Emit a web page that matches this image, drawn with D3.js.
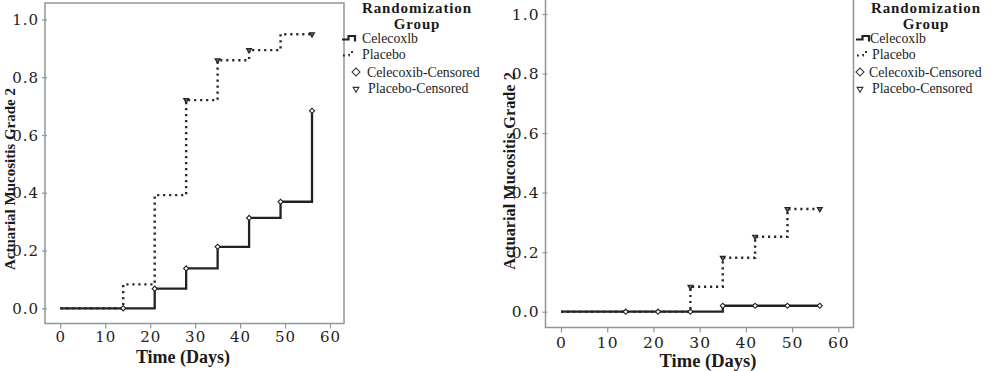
<!DOCTYPE html>
<html><head><meta charset="utf-8">
<script src="https://cdn.jsdelivr.net/npm/d3@7/dist/d3.min.js"></script>
<style>
html,body{margin:0;padding:0;background:#fff;}
svg{display:block;}
</style></head>
<body>
<svg id="c" width="1000" height="371"></svg>
<script>
// ---------- DATA ----------
const xTicks = [0, 10, 20, 30, 40, 50, 60];
const yTicks = [0.0, 0.2, 0.4, 0.6, 0.8, 1.0];
const xTitle = "Time (Days)";
const yTitle = "Actuarial Mucositis Grade 2";
const legendTitle = ["Randomization", "Group"];
const legendLabels = ["Celecoxlb", "Placebo", "Celecoxib-Censored", "Placebo-Censored"];

// Left panel
const leftCelecoxibTimes  = [0, 21, 28, 35, 42, 49, 56];
const leftCelecoxibValues = [0, 0.068, 0.138, 0.213, 0.313, 0.369, 0.684];
const leftCelecoxibCensored = [14, 21, 28, 35, 42, 49, 56];
const leftPlaceboTimes  = [0, 14, 21, 28, 35, 42, 49, 56];
const leftPlaceboValues = [0, 0.083, 0.392, 0.721, 0.859, 0.894, 0.949, 0.949];
const leftPlaceboCensored = [28, 35, 42, 56];

// Right panel
const rightCelecoxibTimes  = [0, 35, 56];
const rightCelecoxibValues = [0, 0.020, 0.020];
const rightCelecoxibCensored = [14, 21, 28, 35, 42, 49, 56];
const rightPlaceboTimes  = [0, 28, 35, 42, 49, 56];
const rightPlaceboValues = [0, 0.084, 0.181, 0.252, 0.345, 0.345];
const rightPlaceboCensored = [28, 35, 42, 49, 56];

// ---------- DRAW ----------
const svg = d3.select("#c");
const INK = "#222";
const FRAME = "#8d9898";
const SERIF = "'Liberation Serif', 'DejaVu Serif', serif";
const TICKSERIF = "'DejaVu Serif', 'Liberation Serif', serif";

function stepValue(times, values, t) {
  let v = values[0];
  for (let i = 0; i < times.length; i++) if (times[i] <= t) v = values[i];
  return v;
}

function panel(o) {
  const g = svg.append("g");
  const x = d3.scaleLinear().domain([0, 60]).range(o.xRange);
  const y = d3.scaleLinear().domain([0, 1]).range(o.yRange);

  // frame
  g.append("rect").attr("x", o.frame[0]).attr("y", o.frame[1])
    .attr("width", o.frame[2] - o.frame[0]).attr("height", o.frame[3] - o.frame[1])
    .attr("fill", "none").attr("stroke", FRAME).attr("stroke-width", 1.5);

  // x axis
  const xa = g.append("g").attr("transform", `translate(0,${o.frame[3]})`)
    .call(d3.axisBottom(x).tickValues(xTicks).tickSize(5).tickPadding(3).tickFormat(d3.format("d")));
  xa.select(".domain").remove();
  xa.selectAll("line").attr("stroke", FRAME).attr("stroke-width", 1.2);
  xa.selectAll("text").attr("font-family", TICKSERIF).attr("font-size", o.tickFont)
    .attr("letter-spacing", o.tickLs).attr("fill", INK).attr("dy", null).attr("y", o.xLabelY - o.frame[3])
    .attr("dominant-baseline", "central");

  // y axis
  const ya = g.append("g").attr("transform", `translate(${o.frame[0] + 2},0)`)
    .call(d3.axisLeft(y).tickValues(yTicks).tickSize(5).tickPadding(3).tickFormat(d3.format(".1f")));
  ya.select(".domain").remove();
  ya.selectAll("line").attr("stroke", FRAME).attr("stroke-width", 1.2);
  ya.selectAll("text").attr("font-family", TICKSERIF).attr("font-size", o.tickFont)
    .attr("letter-spacing", o.tickLs).attr("fill", INK).attr("dy", null).attr("dominant-baseline", "central");

  // titles
  g.append("text").attr("x", o.xTitlePos[0]).attr("y", o.xTitlePos[1])
    .attr("text-anchor", "middle").attr("dominant-baseline", "central")
    .attr("font-family", SERIF).attr("font-weight", "bold").attr("font-size", o.xTitleFont)
    .attr("fill", "#1a1a1a").text(xTitle);
  g.append("text").attr("transform", `translate(${o.yTitlePos[0]},${o.yTitlePos[1]}) rotate(-90)`)
    .attr("text-anchor", "middle").attr("dominant-baseline", "central")
    .attr("font-family", SERIF).attr("font-weight", "bold").attr("font-size", o.yTitleFont)
    .attr("fill", "#1a1a1a").text(yTitle);

  const line = d3.line().x(d => x(d[0])).y(d => y(d[1])).curve(d3.curveStepAfter);

  // Celecoxib solid
  g.append("path").datum(o.cT.map((t, i) => [t, o.cV[i]]))
    .attr("d", line).attr("fill", "none").attr("stroke", INK).attr("stroke-width", 2.3);
  // Placebo dotted
  g.append("path").datum(o.pT.map((t, i) => [t, o.pV[i]]))
    .attr("d", line).attr("fill", "none").attr("stroke", "#2a2a2a").attr("stroke-width", 2.4)
    .attr("stroke-dasharray", "2.2,3.8");

  // censored diamonds (rotated squares)
  g.selectAll(".dia").data(o.cC).enter().append("path")
    .attr("transform", t => `translate(${x(t)},${y(stepValue(o.cT, o.cV, t))}) rotate(45)`)
    .attr("d", d3.symbol(d3.symbolSquare, 13)())
    .attr("fill", "#fff").attr("stroke", INK).attr("stroke-width", 1.1);
  // censored triangles (down)
  g.selectAll(".tri").data(o.pC).enter().append("path")
    .attr("transform", t => `translate(${x(t)},${y(stepValue(o.pT, o.pV, t))}) rotate(180)`)
    .attr("d", d3.symbol(d3.symbolTriangle, 11)())
    .attr("fill", "#666").attr("stroke", INK).attr("stroke-width", 1.1);

  // legend
  const L = o.legend;
  const lg = g.append("g");
  legendTitle.forEach((s, i) => {
    lg.append("text").attr("x", L.titleX).attr("y", 8 + i * 16).attr("text-anchor", "middle")
      .attr("dominant-baseline", "central").attr("font-family", SERIF).attr("font-weight", "bold")
      .attr("font-size", 15).attr("letter-spacing", 0.9).attr("fill", "#1a1a1a").text(s);
  });
  const ys = [38, 54, 72, 88];
  // icons
  lg.append("path").attr("d", `M${L.iconX},${ys[0] + 1.5}h6.5v-3.5h6.5v5.5`)
    .attr("fill", "none").attr("stroke", INK).attr("stroke-width", 2.2);
  lg.append("path").attr("d", `M${L.iconX + 1},${ys[1] + 1.5}h6v-3.5h5`)
    .attr("fill", "none").attr("stroke", INK).attr("stroke-width", 1.8).attr("stroke-dasharray", "1.8,4");
  lg.append("path").attr("transform", `translate(${L.symX},${ys[2]}) rotate(45)`)
    .attr("d", d3.symbol(d3.symbolSquare, 32)())
    .attr("fill", "#fff").attr("stroke", "#333").attr("stroke-width", 1.1);
  lg.append("path").attr("transform", `translate(${L.symX},${ys[3] + 1}) rotate(180)`)
    .attr("d", d3.symbol(d3.symbolTriangle, 14)())
    .attr("fill", "#fff").attr("stroke", "#333").attr("stroke-width", 1.1);
  legendLabels.forEach((s, i) => {
    lg.append("text").attr("x", L.textX[i]).attr("y", ys[i]).attr("dominant-baseline", "central")
      .attr("font-family", SERIF).attr("font-size", 13.8).attr("fill", INK).text(s);
  });
}

panel({
  xRange: [60.3, 330], yRange: [308.3, 19.5],
  frame: [45, 3, 344, 323.5],
  xLabelY: 337, tickFont: 15, tickLs: 1,
  xTitlePos: [183, 357], xTitleFont: 18,
  yTitlePos: [10, 179], yTitleFont: 15,
  cT: leftCelecoxibTimes, cV: leftCelecoxibValues, cC: leftCelecoxibCensored,
  pT: leftPlaceboTimes, pV: leftPlaceboValues, pC: leftPlaceboCensored,
  legend: { titleX: 417, iconX: 342, symX: 356, textX: [362, 362, 367, 368] }
});

panel({
  xRange: [561, 838.3], yRange: [311.7, 14],
  frame: [545.5, -3, 853.5, 327.5],
  xLabelY: 343, tickFont: 15.5, tickLs: 1,
  xTitlePos: [708, 361], xTitleFont: 18.5,
  yTitlePos: [509, 171], yTitleFont: 16.3,
  cT: rightCelecoxibTimes, cV: rightCelecoxibValues, cC: rightCelecoxibCensored,
  pT: rightPlaceboTimes, pV: rightPlaceboValues, pC: rightPlaceboCensored,
  legend: { titleX: 926, iconX: 856, symX: 860, textX: [870, 872, 869, 872] }
});
</script>
</body></html>
